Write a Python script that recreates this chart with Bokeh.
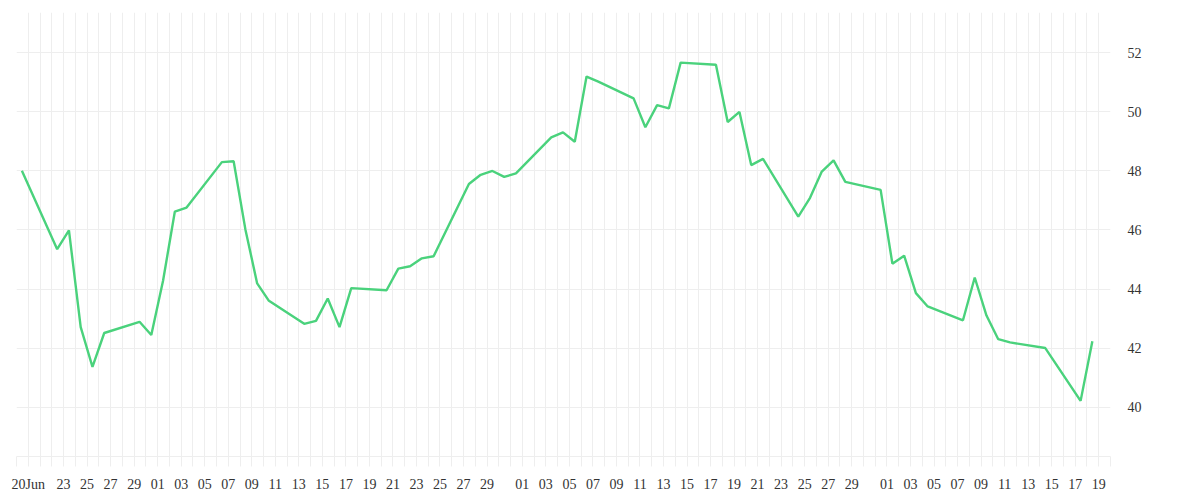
import pandas as pd
from bokeh.plotting import figure
from bokeh.models import FixedTicker, Range1d
from bokeh.embed import file_html
from bokeh.resources import INLINE

dates = [
    "2020-06-19", "2020-06-22", "2020-06-23", "2020-06-24", "2020-06-25", "2020-06-26",
    "2020-06-29", "2020-06-30", "2020-07-01", "2020-07-02", "2020-07-03",
    "2020-07-06", "2020-07-07", "2020-07-08", "2020-07-09", "2020-07-10",
    "2020-07-13", "2020-07-14", "2020-07-15", "2020-07-16", "2020-07-17",
    "2020-07-20", "2020-07-21", "2020-07-22", "2020-07-23", "2020-07-24",
    "2020-07-27", "2020-07-28", "2020-07-29", "2020-07-30", "2020-07-31",
    "2020-08-03", "2020-08-04", "2020-08-05", "2020-08-06", "2020-08-07",
    "2020-08-10", "2020-08-11", "2020-08-12", "2020-08-13", "2020-08-14",
    "2020-08-17", "2020-08-18", "2020-08-19", "2020-08-20", "2020-08-21",
    "2020-08-24", "2020-08-25", "2020-08-26", "2020-08-27", "2020-08-28",
    "2020-08-31", "2020-09-01", "2020-09-02", "2020-09-03", "2020-09-04",
    "2020-09-07", "2020-09-08", "2020-09-09", "2020-09-10", "2020-09-11",
    "2020-09-14", "2020-09-17", "2020-09-18",
]
values = [
    48.01, 45.35, 45.99, 42.71, 41.36, 42.51,
    42.89, 42.44, 44.28, 46.62, 46.76,
    48.30, 48.33, 46.02, 44.19, 43.60,
    42.82, 42.92, 43.68, 42.71, 44.03,
    43.96, 44.69, 44.77, 45.04, 45.11,
    47.56, 47.87, 48.00, 47.80, 47.92,
    49.14, 49.31, 48.99, 51.20, 51.03,
    50.46, 49.48, 50.23, 50.12, 51.67,
    51.60, 49.66, 50.00, 48.20, 48.41,
    46.45, 47.09, 47.98, 48.36, 47.63,
    47.36, 44.86, 45.13, 43.86, 43.41,
    42.94, 44.39, 43.10, 42.30, 42.19,
    42.00, 40.21, 42.23,
]

tick_label_dates = [
    "2020-06-20", "2020-06-23", "2020-06-25", "2020-06-27", "2020-06-29",
    "2020-07-01", "2020-07-03", "2020-07-05", "2020-07-07", "2020-07-09",
    "2020-07-11", "2020-07-13", "2020-07-15", "2020-07-17", "2020-07-19",
    "2020-07-21", "2020-07-23", "2020-07-25", "2020-07-27", "2020-07-29",
    "2020-08-01", "2020-08-03", "2020-08-05", "2020-08-07", "2020-08-09",
    "2020-08-11", "2020-08-13", "2020-08-15", "2020-08-17", "2020-08-19",
    "2020-08-21", "2020-08-23", "2020-08-25", "2020-08-27", "2020-08-29",
    "2020-09-01", "2020-09-03", "2020-09-05", "2020-09-07", "2020-09-09",
    "2020-09-11", "2020-09-13", "2020-09-15", "2020-09-17", "2020-09-19",
]
tick_label_texts = [
    "20Jun", "23", "25", "27", "29",
    "01", "03", "05", "07", "09",
    "11", "13", "15", "17", "19",
    "21", "23", "25", "27", "29",
    "01", "03", "05", "07", "09",
    "11", "13", "15", "17", "19",
    "21", "23", "25", "27", "29",
    "01", "03", "05", "07", "09",
    "11", "13", "15", "17", "19",
]
y_ticks = [40, 42, 44, 46, 48, 50, 52]

GRID = "#eeeeee"
FONT = "Liberation Serif"


def ms(d):
    return float(pd.Timestamp(d).value // 10**6)


HOUR = 3600 * 1000.0
x = [ms(d) + 11 * HOUR for d in dates]
day_ticks = [ms(d) for d in pd.date_range("2020-06-19", "2020-09-20", freq="D")]
overrides = {t: "" for t in day_ticks}
for d, t in zip(tick_label_dates, tick_label_texts):
    overrides[ms(d)] = t

p = figure(
    width=1192, height=494,
    x_axis_type="datetime", y_axis_location="right",
    x_range=Range1d(ms("2020-06-19"), ms("2020-09-20")),
    y_range=Range1d(38.325, 53.37),
    output_backend="svg", toolbar_location=None,
    min_border_left=16, min_border_right=82, min_border_top=12, min_border_bottom=36,
)
p.outline_line_color = None
p.background_fill_color = "white"
p.border_fill_color = "white"

p.line(x, values, line_color="#4ad27c", line_width=2.4)

xa = p.xaxis[0]
xa.ticker = FixedTicker(ticks=day_ticks)
xa.major_label_overrides = overrides
xa.axis_line_color = GRID
xa.major_tick_line_color = GRID
xa.major_tick_out = 10
xa.major_tick_in = 0
xa.minor_tick_line_color = None
xa.major_label_standoff = 10
xa.major_label_text_font = FONT
xa.major_label_text_font_size = "14px"
xa.major_label_text_color = "#333333"

ya = p.yaxis[0]
ya.ticker = FixedTicker(ticks=y_ticks)
ya.axis_line_color = None
ya.major_tick_line_color = None
ya.minor_tick_line_color = None
ya.major_tick_out = 0
ya.major_tick_in = 0
ya.major_label_standoff = 17
ya.major_label_text_font = FONT
ya.major_label_text_font_size = "14px"
ya.major_label_text_color = "#333333"

p.xgrid.grid_line_color = GRID
p.ygrid.grid_line_color = GRID
p.xgrid.grid_line_width = 1
p.ygrid.grid_line_width = 1

open("out.html", "w").write(file_html(p, INLINE))
